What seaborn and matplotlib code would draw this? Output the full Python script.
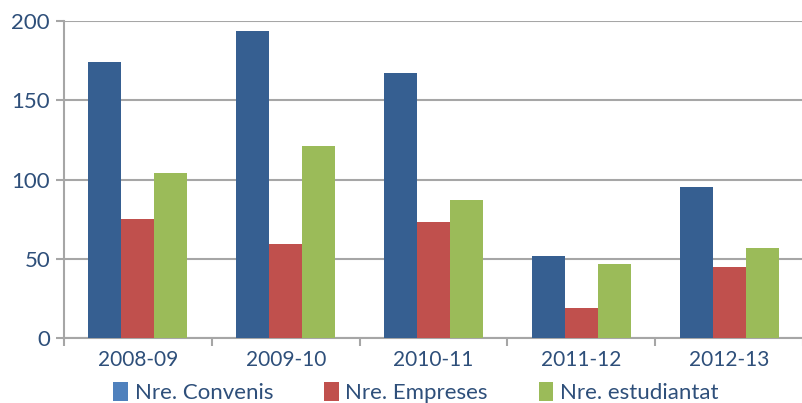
import numpy as np
import pandas as pd
import matplotlib
matplotlib.use("Agg")
import matplotlib.pyplot as plt
from matplotlib.patches import Patch
from matplotlib.ticker import FixedLocator
import seaborn as sns

# data
years = ["2008-09", "2009-10", "2010-11", "2011-12", "2012-13"]
convenis = [174, 194, 167, 52, 95]
empreses = [75, 59, 73, 19, 45]
estudiantat = [104, 121, 87, 47, 57]
series_names = ["Nre. Convenis", "Nre. Empreses", "Nre. estudiantat"]

bar_colors = ["#365F91", "#C0504D", "#9BBB59"]
legend_colors = ["#4F81BD", "#C0504D", "#9BBB59"]
text_color = "#2E4F7A"
grid_color = "#A6A6A6"

df = pd.DataFrame({
    "year": years * 3,
    "value": convenis + empreses + estudiantat,
    "serie": [series_names[0]] * 5 + [series_names[1]] * 5 + [series_names[2]] * 5,
})

sns.set_style("white")
plt.rcParams["font.family"] = ["Lato", "DejaVu Sans"]

fig = plt.figure(figsize=(8.03, 4.03), dpi=100)
ax = fig.add_axes([64 / 803, 1 - 338 / 403, 1 - 64 / 803, (338 - 21) / 403])

sns.barplot(data=df, x="year", y="value", hue="serie", palette=bar_colors,
            width=0.67, gap=0, saturation=1, ax=ax, legend=False,
            edgecolor="none", zorder=3)

ax.set_ylim(0, 200)
ax.set_xlim(-0.5, 4.5)
ax.set_yticks([0, 50, 100, 150, 200])
ax.yaxis.grid(True, color=grid_color, linewidth=1.5, zorder=0)
ax.set_axisbelow(True)
ax.set_xlabel("")
ax.set_ylabel("")

for s in ["top", "right"]:
    ax.spines[s].set_visible(False)
for s in ["left", "bottom"]:
    ax.spines[s].set_color(grid_color)
    ax.spines[s].set_linewidth(1.5)

ax.tick_params(axis="y", colors=grid_color, labelcolor=text_color, labelsize=16,
               length=6, width=1.5, left=True, pad=4)
ax.tick_params(axis="x", which="major", length=0, labelcolor=text_color,
               labelsize=15, pad=9)
ax.xaxis.set_minor_locator(FixedLocator(np.arange(-0.5, 5, 1)))
ax.tick_params(axis="x", which="minor", length=6, width=1.5, color=grid_color,
               bottom=True)

handles = [Patch(facecolor=c, edgecolor="none") for c in legend_colors]
fig.legend(handles, series_names, loc="lower center", ncol=3, frameon=False,
           bbox_to_anchor=(0.518, -0.05), fontsize=16, handlelength=0.65,
           handleheight=0.9, handletextpad=0.3, columnspacing=2.3,
           labelcolor=text_color)

fig.savefig("out.png", dpi=100)
